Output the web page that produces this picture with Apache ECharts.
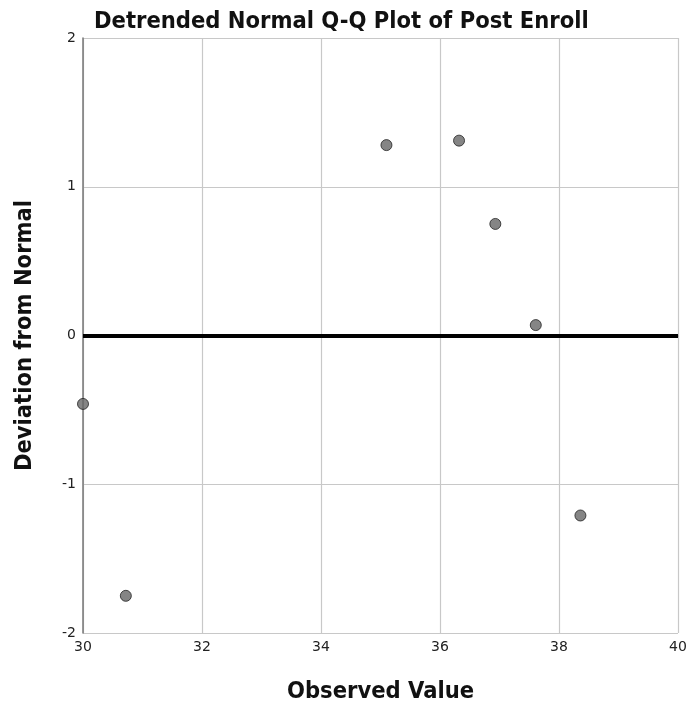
<!DOCTYPE html>
<html>
<head>
<meta charset="utf-8">
<script src="https://cdn.jsdelivr.net/npm/echarts@6/dist/echarts.min.js"></script>
<style>
  html, body { margin: 0; padding: 0; background: #fff; }
  #main { width: 692px; height: 710px; }
</style>
</head>
<body>
<div id="main"></div>
<script>
var observed = [30.0, 30.72, 35.10, 36.32, 36.93, 37.61, 38.36];
var deviation = [-0.46, -1.75, 1.28, 1.31, 0.75, 0.07, -1.21];
var xTicks = [30, 32, 34, 36, 38, 40];
var yTicks = [-2, -1, 0, 1, 2];

var points = observed.map(function (v, i) {
  return [v, deviation[i]];
});

var chart = echarts.init(document.getElementById('main'));

var boldText = {
  fontFamily: 'DejaVu Sans Condensed',
  fontWeight: 'bold',
  fontSize: 23.5,
  color: '#111'
};

var option = {
  animation: false,
  title: {
    text: 'Detrended Normal Q-Q Plot of Post Enroll',
    left: 89,
    top: 5,
    textStyle: boldText
  },
  grid: {
    left: 83,
    right: 14,
    top: 38,
    bottom: 77
  },
  xAxis: {
    type: 'value',
    min: xTicks[0],
    max: xTicks[xTicks.length - 1],
    interval: 2,
    name: 'Observed Value',
    nameLocation: 'middle',
    nameGap: 47,
    nameTextStyle: boldText,
    axisLine: { lineStyle: { color: '#999', width: 1.5 } },
    axisTick: { show: false },
    axisLabel: {
      fontFamily: 'DejaVu Sans',
      fontSize: 14,
      color: '#222',
      margin: 7
    },
    splitLine: { show: true, lineStyle: { color: '#c8c8c8', width: 1.2 } }
  },
  yAxis: {
    type: 'value',
    min: yTicks[0],
    max: yTicks[yTicks.length - 1],
    interval: 1,
    name: 'Deviation from Normal',
    nameLocation: 'middle',
    nameGap: 46,
    nameTextStyle: boldText,
    axisLine: { show: true, lineStyle: { color: '#777', width: 1.5 } },
    axisTick: { show: false },
    axisLabel: {
      fontFamily: 'DejaVu Sans',
      fontSize: 14,
      color: '#222',
      margin: 7
    },
    splitLine: { show: true, lineStyle: { color: '#c8c8c8', width: 1.2 } }
  },
  series: [
    {
      type: 'scatter',
      data: points,
      symbol: 'circle',
      symbolSize: 11,
      itemStyle: {
        color: '#666',
        borderColor: '#222',
        borderWidth: 1
      },
      markLine: {
        silent: true,
        symbol: ['none', 'none'],
        label: { show: false },
        lineStyle: { color: '#000', width: 4, type: 'solid' },
        data: [{ yAxis: 0 }]
      }
    }
  ]
};

chart.setOption(option);
</script>
</body>
</html>
